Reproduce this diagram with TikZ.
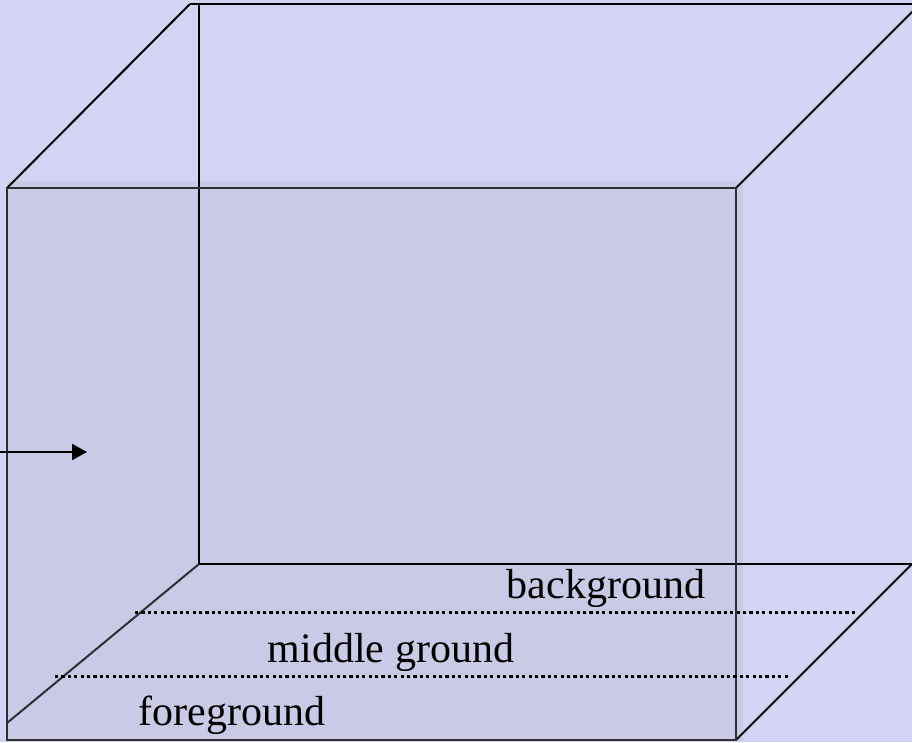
\documentclass[tikz,border=0pt]{standalone}
\usepackage{fontspec}
\setmainfont{Liberation Serif}
\usepackage{xcolor}
\usetikzlibrary{positioning, arrows.meta}
\definecolor{slidebg}{HTML}{D3D3F3}
\definecolor{frontface}{HTML}{CACAE7}
\definecolor{edgegray}{HTML}{2E2E33}

\begin{document}
\begin{tikzpicture}[x=1pt, y=-1pt,
    backedge/.style={draw=black, line width=2pt},
    frontedge/.style={draw=edgegray, line width=2pt},
    layerline/.style={draw=black, line width=3pt, dash pattern=on 3.2pt off 3.2pt},
    layerlabel/.style={font=\fontsize{42}{48}\selectfont, inner sep=0pt, anchor=base}]
  \fill[slidebg] (0,0) rectangle (912,742);
  \useasboundingbox (0,0) rectangle (912,742);
  \clip (0,0) rectangle (912,742);
  % corners of the box
  \coordinate (ftl) at (7,188);
  \coordinate (ftr) at (736,188);
  \coordinate (fbr) at (736,740);
  \coordinate (fbl) at (7,740);
  \coordinate (ffl) at (7,723);
  \coordinate (btl) at (190,4);
  \coordinate (btv) at (199,4);
  \coordinate (bbl) at (199,564);
  \coordinate (bbr) at (912,564);
  \coordinate (btr) at (920,4);
  % front face
  \fill[frontface] (7,181) rectangle (743,741);
  % back edges
  \draw[backedge] (btl) -- (btr);
  \draw[backedge] (btv) -- (bbl) -- (bbr);
  \draw[backedge] (ftl) -- (btl);
  \draw[backedge] (ftr) -- (btr);
  \draw[backedge] (fbr) -- (bbr);
  \draw[frontedge] (ffl) -- (bbl);
  % front frame
  \draw[frontedge] (ftl) -- (ftr) -- (fbr) -- (fbl) -- cycle;
  % ground layers
  \coordinate (backL) at (135,612);
  \coordinate (backR) at (855,612);
  \coordinate (midL) at (55,676);
  \coordinate (midR) at (790,676);
  \draw[layerline] (backL) -- (backR);
  \draw[layerline] (midL) -- (midR);
  \node[layerlabel] (lbl-back) at (606,598) {background};
  \node[layerlabel] (lbl-middle) at (391,662) {middle ground};
  \node[layerlabel] (lbl-fore) at (232,725) {foreground};
  % viewer arrow
  \coordinate (arrowtail) at (0,452);
  \coordinate (arrowtip) at (87,452);
  \draw[black, line width=2pt, -{Triangle[length=15pt, width=16pt]}] (arrowtail) -- (arrowtip);
\end{tikzpicture}
\end{document}
